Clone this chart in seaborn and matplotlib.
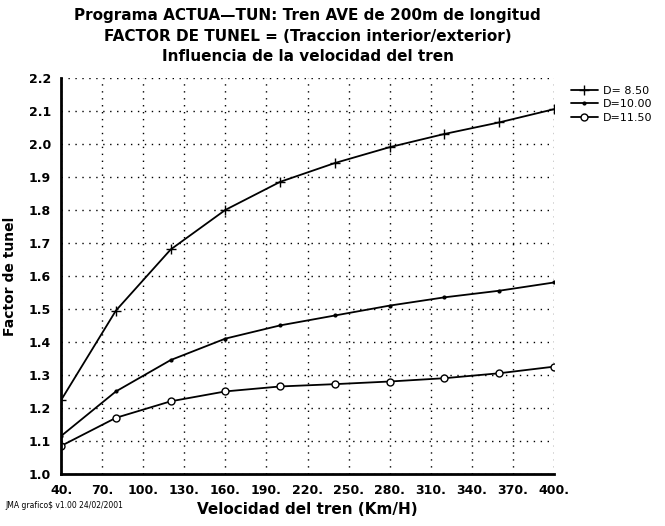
import pandas as pd
import matplotlib
matplotlib.use("Agg")
import matplotlib.pyplot as plt
import seaborn as sns

# speeds in km/h
velocidad = [40, 80, 120, 160, 200, 240, 280, 320, 360, 400]
d_850 = [1.224, 1.495, 1.68, 1.80, 1.885, 1.942, 1.99, 2.03, 2.065, 2.105]
d_1000 = [1.115, 1.25, 1.345, 1.41, 1.45, 1.48, 1.51, 1.535, 1.555, 1.58]
d_1150 = [1.085, 1.17, 1.22, 1.25, 1.265, 1.272, 1.28, 1.29, 1.305, 1.325]
series_labels = ['D= 8.50', 'D=10.00', 'D=11.50']

x_ticks = [40, 70, 100, 130, 160, 190, 220, 250, 280, 310, 340, 370, 400]
y_ticks = [1.0, 1.1, 1.2, 1.3, 1.4, 1.5, 1.6, 1.7, 1.8, 1.9, 2.0, 2.1, 2.2]

df = pd.DataFrame({
    'Velocidad': velocidad * 3,
    'Factor': d_850 + d_1000 + d_1150,
    'Serie': [series_labels[0]] * 10 + [series_labels[1]] * 10 + [series_labels[2]] * 10,
})

sns.set_style('white')
plt.rcParams['font.family'] = ['DejaVu Sans']
plt.rcParams['text.color'] = 'black'
plt.rcParams['axes.labelcolor'] = 'black'
plt.rcParams['xtick.color'] = 'black'
plt.rcParams['ytick.color'] = 'black'

fig = plt.figure(figsize=(6.65, 5.26), dpi=100)
ax = fig.add_axes([0.092, 0.099, 0.741, 0.753])

styles = {
    series_labels[0]: dict(marker='+', markersize=7, mfc='none'),
    series_labels[1]: dict(marker='.', markersize=4),
    series_labels[2]: dict(marker='o', markersize=5, mfc='white'),
}
for lab in series_labels:
    sub = df[df['Serie'] == lab]
    sns.lineplot(data=sub, x='Velocidad', y='Factor', ax=ax, color='black',
                 linewidth=1.3, label=lab, mec='black', mew=1.0, **styles[lab])

ax.set_xlim(40, 400)
ax.set_ylim(1.0, 2.2)
ax.set_xticks(x_ticks)
ax.set_xticklabels([f'{t}.' for t in x_ticks])
ax.set_yticks(y_ticks)
ax.set_yticklabels([f'{t:.1f}' for t in y_ticks])
ax.tick_params(direction='inout', length=8, width=1.5, labelsize=9)
for lbl in ax.get_xticklabels() + ax.get_yticklabels():
    lbl.set_fontweight('bold')

ax.grid(True, linestyle=(0, (1, 4)), color='black', linewidth=1.0)
for side in ['top', 'right']:
    ax.spines[side].set_visible(False)
for side in ['left', 'bottom']:
    ax.spines[side].set_linewidth(2)
    ax.spines[side].set_color('black')

ax.set_xlabel('Velocidad del tren (Km/H)', fontsize=11, fontweight='bold', labelpad=3)
ax.set_ylabel('Factor de tunel', fontsize=10, fontweight='bold', labelpad=8)
ax.set_title('Programa ACTUA\u2014TUN: Tren AVE de 200m de longitud\n'
             'FACTOR DE TUNEL = (Traccion interior/exterior)\n'
             'Influencia de la velocidad del tren',
             fontsize=11, fontweight='bold', linespacing=1.45, pad=12)

ax.legend(loc='upper left', bbox_to_anchor=(1.03, 0.985), frameon=False,
          fontsize=8, handlelength=2.4, handletextpad=0.5, borderaxespad=0.2,
          borderpad=0.0, labelspacing=0.3)

fig.text(0.008, 0.035, 'JMA grafico$ v1.00 24/02/2001', fontsize=5.5)

fig.savefig('out.png', dpi=100)
